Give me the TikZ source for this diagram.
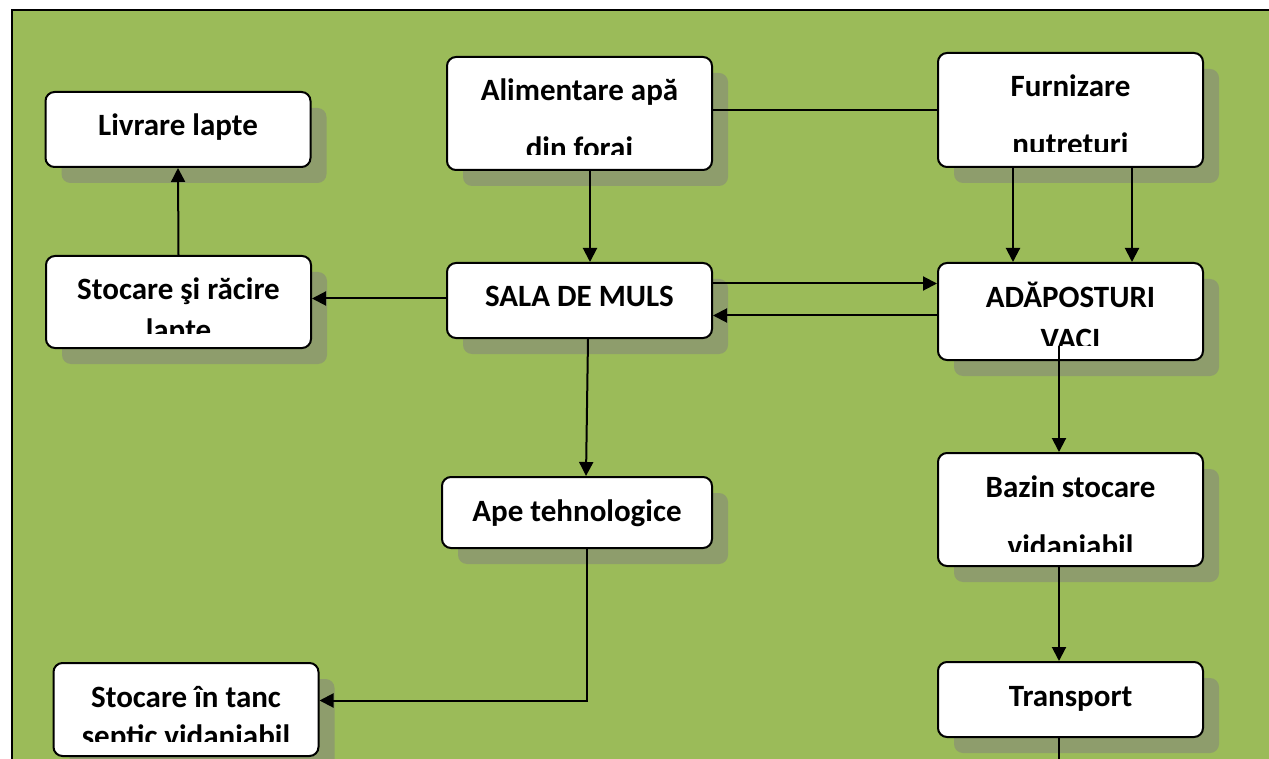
\documentclass[tikz,border=0pt]{standalone}
\usepackage{fontspec}
\setmainfont{Carlito}
\usetikzlibrary{shadows,arrows.meta}
\definecolor{fieldgreen}{HTML}{9BBB59}
\definecolor{shadowgreen}{HTML}{8E9D6C}

\begin{document}
\begin{tikzpicture}[
		x=1pt, y=-1pt,
		>={Triangle[length=14pt,width=14pt]},
		every node/.style={inner sep=0pt},
		stage/.style={rectangle, rounded corners=9pt, draw=black, line width=2pt, fill=white,
			minimum width=265pt,
			drop shadow={shadow xshift=16pt, shadow yshift=-16pt, fill=shadowgreen, opacity=1}},
		stage text/.style 2 args={path picture={
			\clip ([yshift=15pt]path picture bounding box.south west) rectangle (path picture bounding box.north east);
			\node[minimum width=0pt, minimum height=0pt, draw=none, fill=none, inner sep=0pt,
				anchor=north, align=center, font=\bfseries\fontsize{31}{#2}\selectfont]
				at ([yshift=-13pt]path picture bounding box.north) {\rule{0pt}{30pt}#1};}},
		link/.style={line width=2pt}
	]
  \useasboundingbox (0,0) rectangle (1269,759);
  \fill[white] (0,0) rectangle (1269,759);
  \draw[fill=fieldgreen, line width=1.6pt] (12,10) rectangle (1300,800);

  % boxes
  \node (livrare) [stage, minimum height=75pt, stage text={Livrare lapte}{40}] at (178,129.5) {};
  \node (alim) [stage, minimum height=113pt, stage text={Alimentare apă\\din foraj}{58}] at (579.5,113.5) {};
  \node (furniz) [stage, minimum height=114pt, stage text={Furnizare\\nutreturi}{58}] at (1070.5,110) {};
  \node (racire) [stage, minimum height=92pt, stage text={Stocare şi răcire\\lapte}{41}] at (178.5,302) {};
  \node (sala) [stage, minimum height=75pt, stage text={SALA DE MULS}{40}] at (579.5,300.5) {};
  \node (adap) [stage, minimum height=97pt, stage text={ADĂPOSTURI\\VACI}{42}] at (1070.5,311.5) {};
  \node (ape) [stage, minimum height=71pt, minimum width=270pt, stage text={Ape tehnologice}{40}] at (577,512.5) {};
  \node (bazin) [stage, minimum height=113pt, stage text={Bazin stocare\\vidaniabil}{59}] at (1070.5,509.5) {};
  \node (transport) [stage, minimum height=75pt, stage text={Transport}{40}] at (1070.5,699.5) {};
  \node (tanc) [stage, minimum height=93pt, stage text={Stocare în tanc\\septic vidaniabil}{39}] at (186,709.5) {};
  \coordinate (exit) at (1059,780);

  % connectors
  \draw[link] (furniz.west) -- (furniz.west -| alim.east);
  \draw[link, ->] ([xshift=10.5pt]alim.south) -- ([xshift=10.5pt]sala.north);
  \draw[link, ->] ([xshift=-57.5pt]furniz.south) -- ([xshift=-57.5pt]adap.north);
  \draw[link, ->] ([xshift=61.5pt]furniz.south) -- ([xshift=61.5pt]adap.north);
  \draw[link, ->] ([yshift=2pt]sala.west) -- ([yshift=2pt]sala.west -| racire.east);
  \draw[link, ->] (racire.north) -- (livrare.south);
  \draw[link, ->] ([yshift=17pt]sala.east) -- ([yshift=17pt]sala.east -| adap.west);
  \draw[link, ->] ([yshift=-15pt]sala.east -| adap.west) -- ([yshift=-15pt]sala.east);
  \draw[link, ->] ([xshift=8.5pt]sala.south) -- ([xshift=9pt]ape.north);
  \draw[link, ->] ([xshift=10pt]ape.south) |- ([yshift=9pt]tanc.east);
  \draw[link, ->] ([xshift=-11.5pt,yshift=15pt]adap.south) -- ([xshift=-11.5pt]bazin.north);
  \draw[link, ->] ([xshift=-11.5pt]bazin.south) -- ([xshift=-11.5pt]transport.north);
  \draw[link] ([xshift=-11.5pt]transport.south) -- (exit);
\end{tikzpicture}
\end{document}
